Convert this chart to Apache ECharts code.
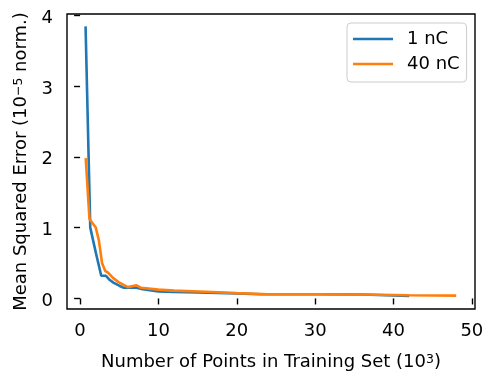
<!DOCTYPE html>
<html>
<head>
<meta charset="utf-8">
<script src="https://cdn.jsdelivr.net/npm/echarts@6/dist/echarts.min.js"></script>
<style>html,body{margin:0;padding:0;background:#fff}#c{width:488px;height:376px}</style>
</head>
<body>
<div id="c"></div>
<script>
const seriesNames = ['1 nC', '40 nC'];
const blueX = [0.7, 1.3, 2.0, 2.7, 3.3, 3.8, 4.3, 5.0, 5.6, 7.2, 8.0, 10, 12, 15, 20, 23, 30, 36, 42];
const blueY = [3.84, 1.0, 0.65, 0.32, 0.32, 0.26, 0.22, 0.18, 0.15, 0.15, 0.13, 0.10, 0.09, 0.085, 0.07, 0.06, 0.06, 0.055, 0.035];
const orangeX = [0.72, 1.2, 2.0, 2.4, 2.8, 3.2, 3.6, 4.2, 4.9, 6.1, 7.2, 7.8, 10, 12, 16, 20, 24, 30, 36, 42, 48];
const orangeY = [1.98, 1.12, 1.0, 0.82, 0.5, 0.39, 0.36, 0.29, 0.23, 0.16, 0.185, 0.15, 0.125, 0.11, 0.095, 0.075, 0.06, 0.06, 0.055, 0.045, 0.04];
const xTicks = [0, 10, 20, 30, 40, 50];
const yTicks = [0, 1, 2, 3, 4];

const pair = (xs, ys) => xs.map((x, i) => [x, ys[i]]);
const font = 'DejaVu Sans';
const fs = 18;
const supStyle = {fontFamily: font, fontSize: 12.5, color: '#000', verticalAlign: 'top'};
const chart = echarts.init(document.getElementById('c'), null, {renderer: 'canvas'});
chart.setOption({
  animation: false,
  grid: {left: 67, top: 14, right: 13, bottom: 63, show: true, borderColor: '#000', borderWidth: 1.4, backgroundColor: 'transparent'},
  legend: {
    data: seriesNames, orient: 'vertical', left: 347, top: 23,
    icon: 'rect', padding: [7, 7, 9, 6], itemGap: 7, itemWidth: 40, itemHeight: 2.6,
    borderColor: '#cccccc', borderWidth: 1, borderRadius: 4, backgroundColor: '#fff',
    textStyle: {fontFamily: font, fontSize: fs, color: '#000', padding: [0, 0, 0, 9]}
  },
  xAxis: {
    type: 'value', min: -1.67, max: 50.4,
    name: 'Number of Points in Training Set (10{sup|3})', nameLocation: 'middle', nameGap: 44,
    nameTextStyle: {fontFamily: font, fontSize: fs, color: '#000', rich: {sup: supStyle}},
    axisLine: {show: false},
    axisTick: {show: true, inside: false, length: 6, lineStyle: {color: '#000', width: 1.4}, customValues: xTicks},
    axisLabel: {fontFamily: font, fontSize: fs, color: '#000', margin: 13, customValues: xTicks},
    splitLine: {show: false}
  },
  yAxis: {
    type: 'value', min: -0.149, max: 4.015,
    name: 'Mean Squared Error (10{sup|−5} norm.)', nameLocation: 'middle', nameGap: 29,
    nameTextStyle: {fontFamily: font, fontSize: fs, color: '#000', rich: {sup: supStyle}},
    axisLine: {show: false},
    axisTick: {show: true, inside: false, length: 6, lineStyle: {color: '#000', width: 1.4}, customValues: yTicks},
    axisLabel: {
      fontFamily: font, fontSize: fs, color: '#000', margin: 14, customValues: yTicks,
      formatter: v => '{t|' + v + '}',
      rich: {t: {fontFamily: font, fontSize: fs, color: '#000', padding: [6, 0, 0, 0]}}
    },
    splitLine: {show: false}
  },
  series: [
    {name: seriesNames[0], type: 'line', data: pair(blueX, blueY), symbol: 'none', lineStyle: {color: '#1f77b4', width: 2.6}, itemStyle: {color: '#1f77b4'}},
    {name: seriesNames[1], type: 'line', data: pair(orangeX, orangeY), symbol: 'none', lineStyle: {color: '#ff7f0e', width: 2.6}, itemStyle: {color: '#ff7f0e'}}
  ]
});
</script>
</body>
</html>
